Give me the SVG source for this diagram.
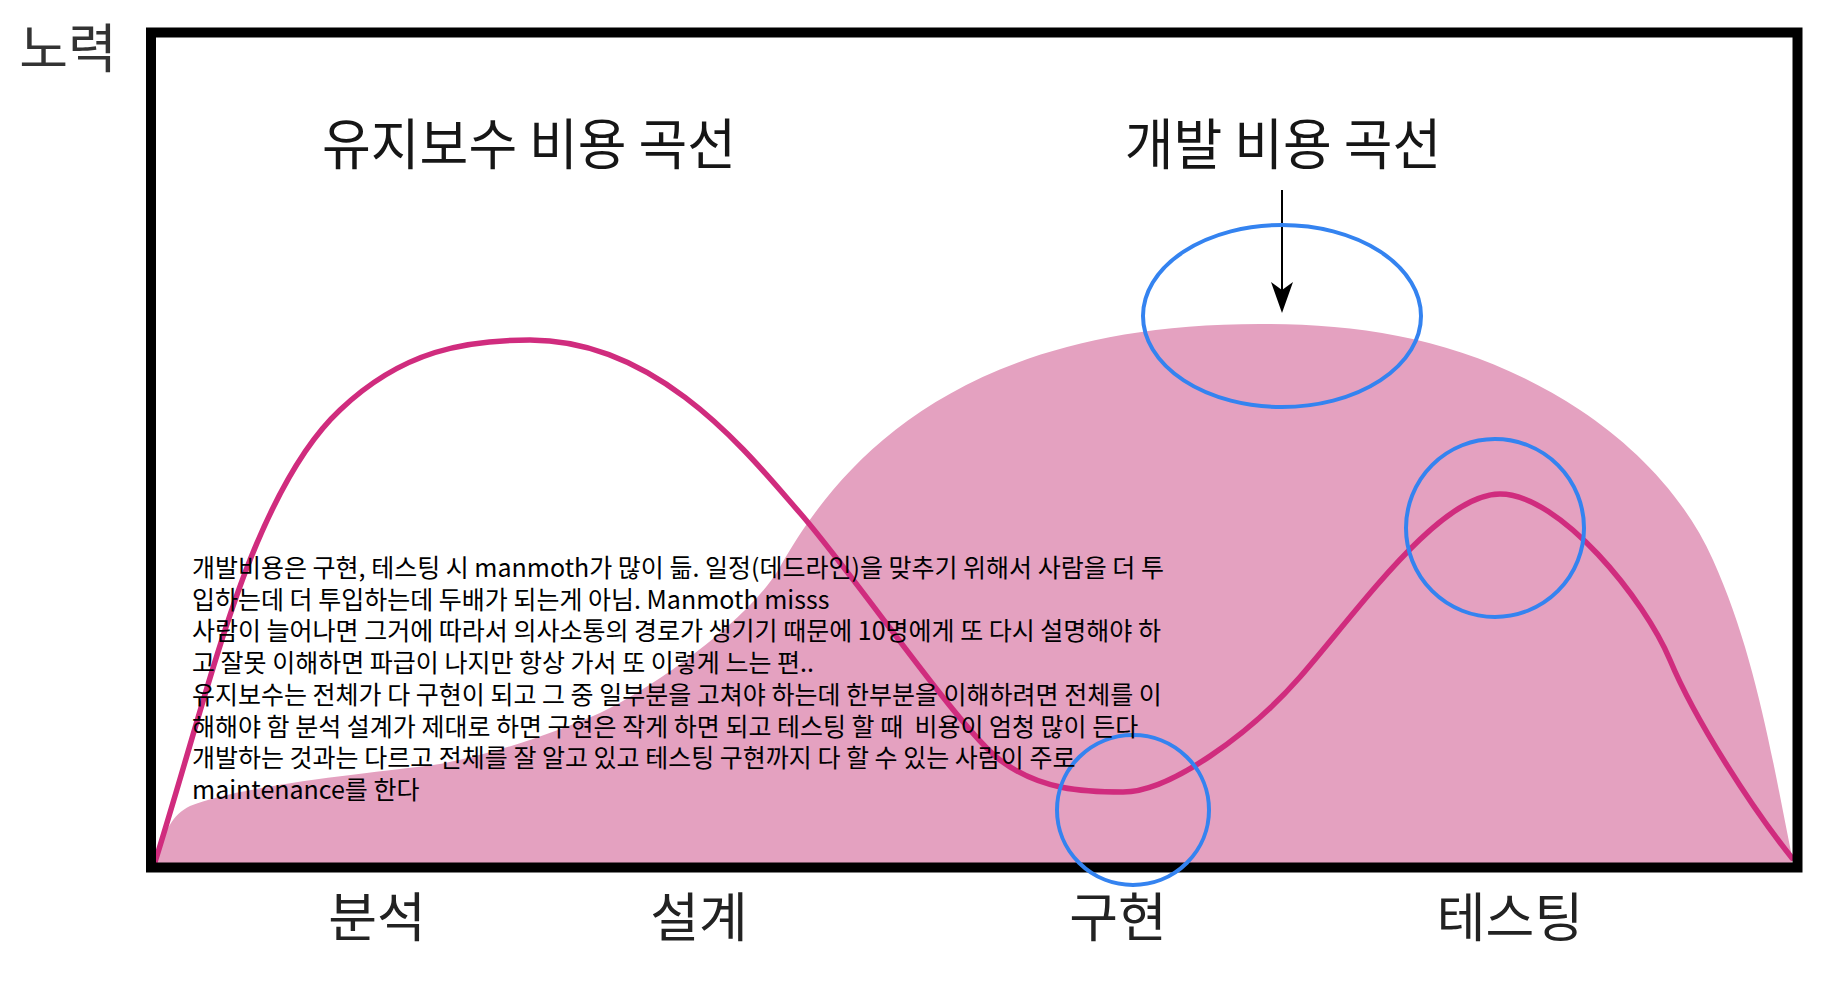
<svg xmlns="http://www.w3.org/2000/svg" width="1840" height="999" viewBox="0 0 1840 999">
<defs>
<style>
.kr{font-family:"Noto Sans CJK KR","Noto Sans",sans-serif;}
.title{font-size:53px;fill:#161616;text-anchor:middle;}
.axis{font-size:53px;fill:#222;text-anchor:middle;}
.note{font-size:25px;fill:#000;white-space:pre;}
.ring{fill:none;stroke:#3483F0;stroke-width:4;}
.curve{fill:none;stroke:#D02C7E;stroke-width:5.5;stroke-linecap:round;}
</style>
<marker id="stealth" viewBox="0 0 31 24" refX="21" refY="12" markerWidth="31" markerHeight="24" markerUnits="userSpaceOnUse" orient="auto">
<path d="M0,1 L31,12 L0,23 L8,12 Z" fill="#000"/>
</marker>
</defs>
<rect width="1840" height="999" fill="#fff"/>

<g id="dev-cost-area">
<path d="M155,862 C165,830 172,815 190,806 C240,785 380,772 433,765 C480,758 550,735 600,713 C650,690 750,620 780,567 C835,470 950,324 1260,324 C1367,324 1473,340 1580,410 C1636,447 1686,499 1713,560 C1755,653 1772,757 1792,857 L1792,864 L155,864 Z" fill="#E4A1C0"/>
</g>

<g id="maintenance-curve">
<path class="curve" d="M155,862 C187,760 218,640 250,560 C280,485 310,438 340,410 C403,350 467,340 530,340 C660,340 750,456 800,513 C855,576 960,730 1000,760 C1040,790 1083,792 1123,792 C1170,792 1250,734 1300,677 C1360,608 1440,494 1500,494 C1560,494 1645,600 1670,660 C1695,720 1752,808 1792,858"/>
</g>

<g id="chart-frame">
<rect x="151" y="32.5" width="1646.5" height="835" fill="none" stroke="#000" stroke-width="10"/>
</g>

<g id="y-axis-label">
<text class="kr" transform="translate(68,68)" font-size="53" fill="#333" text-anchor="middle">노력</text>
</g>

<g id="title-maintenance">
<text class="kr title" transform="translate(529,164) scale(1,1.03)">유지보수 비용 곡선</text>
</g>

<g id="title-development">
<text class="kr title" transform="translate(1283,164) scale(1,1.03)">개발 비용 곡선</text>
</g>

<g id="connectors">
<line x1="1282" y1="190" x2="1282" y2="303" stroke="#000" stroke-width="2" marker-end="url(#stealth)"/>
</g>

<g id="highlight-dev-peak">
<ellipse class="ring" cx="1282" cy="316" rx="139" ry="91"/>
</g>
<g id="highlight-testing-peak">
<ellipse class="ring" cx="1495" cy="528" rx="89" ry="89"/>
</g>
<g id="highlight-impl-min">
<ellipse class="ring" cx="1133" cy="810" rx="76" ry="75"/>
</g>

<g id="phase-analysis"><text class="kr axis" transform="translate(377,937)">분석</text></g>
<g id="phase-design"><text class="kr axis" transform="translate(699,937)">설계</text></g>
<g id="phase-implementation"><text class="kr axis" transform="translate(1118,937)">구현</text></g>
<g id="phase-testing"><text class="kr axis" transform="translate(1510,937)">테스팅</text></g>

<g id="note">
<text class="kr note" x="192" y="577">개발비용은 구현, 테스팅 시 manmoth가 많이 듦. 일정(데드라인)을 맞추기 위해서 사람을 더 투</text>
<text class="kr note" x="192" y="609">입하는데 더 투입하는데 두배가 되는게 아님. Manmoth misss</text>
<text class="kr note" x="192" y="640">사람이 늘어나면 그거에 따라서 의사소통의 경로가 생기기 때문에 10명에게 또 다시 설명해야 하</text>
<text class="kr note" x="192" y="672">고 잘못 이해하면 파급이 나지만 항상 가서 또 이렇게 느는 편..</text>
<text class="kr note" x="192" y="704">유지보수는 전체가 다 구현이 되고 그 중 일부분을 고쳐야 하는데 한부분을 이해하려면 전체를 이</text>
<text class="kr note" x="192" y="736">해해야 함 분석 설계가 제대로 하면 구현은 작게 하면 되고 테스팅 할 때  비용이 엄청 많이 든다</text>
<text class="kr note" x="192" y="767">개발하는 것과는 다르고 전체를 잘 알고 있고 테스팅 구현까지 다 할 수 있는 사람이 주로</text>
<text class="kr note" x="192" y="799">maintenance를 한다</text>
</g>
</svg>
